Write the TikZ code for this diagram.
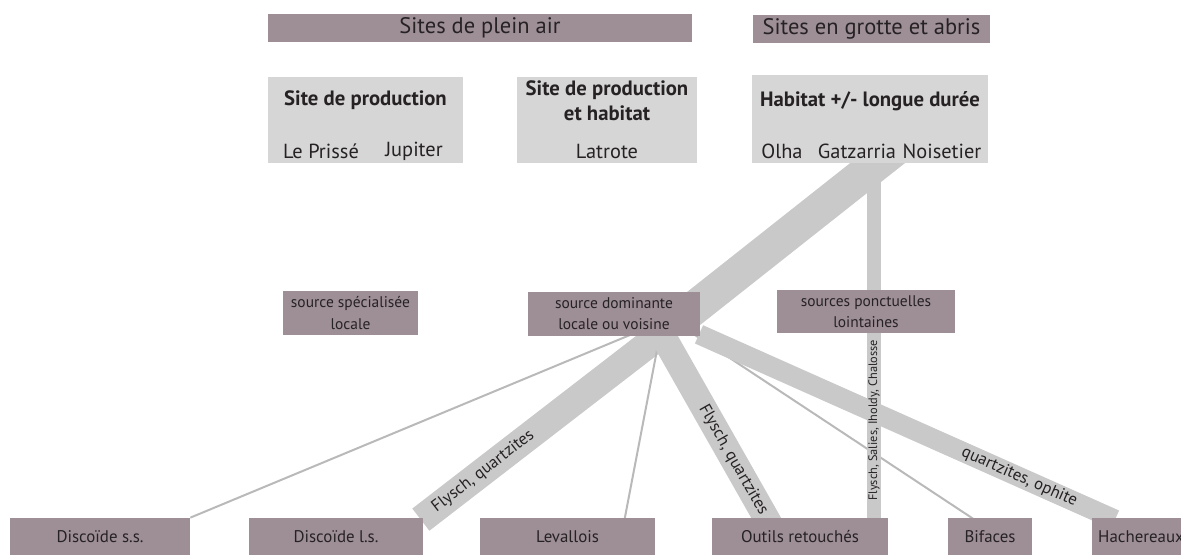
\documentclass[tikz,border=0pt]{standalone}
\usepackage{fontspec}
\setmainfont{PT Sans}
\usetikzlibrary{calc,backgrounds}
\definecolor{Mauve}{RGB}{158,143,151}
\definecolor{BoxGrey}{RGB}{214,214,214}
\definecolor{BandGrey}{RGB}{201,201,201}
\definecolor{Ink}{RGB}{38,34,36}

\begin{document}
\begin{tikzpicture}[x=0.02cm,y=-0.02cm,text=Ink,
  hd/.style={fill=Mauve,inner sep=0pt,minimum height=0.56cm,font=\fontsize{12.8}{14}\selectfont},
  grp/.style={fill=BoxGrey,inner sep=0pt},
  ttl/.style={font=\bfseries\fontsize{11.8}{14.2}\selectfont,align=center,inner sep=0pt},
  itm/.style={font=\fontsize{11.6}{13}\selectfont,inner sep=0pt},
  src/.style={fill=Mauve,inner sep=0pt,minimum height=0.88cm,align=center,font=\fontsize{8.8}{12}\selectfont},
  tl/.style={fill=Mauve,inner sep=0pt,minimum height=0.74cm,font=\fontsize{9.6}{11}\selectfont},
  band/.style={draw=BandGrey,line width=#1},
  wire/.style={draw=BandGrey!92!black,line width=0.04cm},
  lb/.style={font=\fontsize{9.5}{10}\selectfont,inner sep=0pt}]
\useasboundingbox (0,0) rectangle (1181,555);

% ===== headers =====
\node[hd,minimum width=8.48cm] (plein) at (480,28) {Sites de plein air};
\node[hd,minimum width=4.74cm] (grotte) at (871.5,29) {Sites en grotte et abris};

% ===== site types =====
\node[grp,minimum width=3.9cm,minimum height=1.72cm] (prod) at (365.5,120) {};
\node[ttl] (prodT) at (365.5,100) {Site de production};
\node[itm] (prisse) at (321,151) {Le Prissé};
\node[itm] (jupiter) at (414,151) {Jupiter};

\node[grp,minimum width=3.6cm,minimum height=1.72cm] (prodhab) at (607,120) {};
\node[ttl] (prodhabT) at (607,100.5) {Site de production\\et habitat};
\node[itm] (latrote) at (607,151) {Latrote};

\node[grp,minimum width=4.72cm,minimum height=1.76cm] (habitat) at (870,119) {};
\node[ttl] (habitatT) at (870,101) {Habitat +/- longue durée};
\node[itm] (olha) at (782,151) {Olha};
\node[itm] (gatz) at (857,151) {Gatzarria};
\node[itm] (noise) at (942,151) {Noisetier};

% ===== sources =====
\node[src,minimum width=2.7cm] (spec) at (350.5,313) {source spécialisée\\locale};
\node[src,minimum width=3.44cm] (dom) at (614,314) {source dominante\\locale ou voisine};
\node[src,minimum width=3.56cm,minimum height=0.86cm] (ponct) at (866,311.5) {sources ponctuelles\\lointaines};

% ===== tools =====
\node[tl,minimum width=3.6cm] (dss) at (100,536.5) {Discoïde s.s.};
\node[tl,minimum width=3.5cm] (dls) at (336,536.5) {Discoïde l.s.};
\node[tl,minimum width=3.5cm] (lev) at (567.5,536.5) {Levallois};
\node[tl,minimum width=3.52cm] (outils) at (800,536.5) {Outils retouchés};
\node[tl,minimum width=1.68cm] (bif) at (990,536.5) {Bifaces};
\node[tl,minimum width=1.96cm] (hach) at (1141,536.5) {Hachereaux};

% ===== flows (behind the boxes) =====
\begin{scope}[on background layer]
\draw[band=0.68cm] ($(habitat.south)+(30,-18)$) -- ($(dom.center)+(65,6)$);
\draw[wire] ($(dom.south)+(20,-3)$) -- (dss.north east);
\draw[band=0.56cm] ($(dom.south)+(47,-2)$) -- ($(dls.north east)+(-3,2)$)
  node[lb,pos=0.74,sloped]{Flysch, quartzites};
\draw[wire] ($(dom.south)+(46,-2)$) -- ($(lev.north)+(57,2)$);
\draw[band=0.52cm] ($(dom.south)+(48,-2)$) -- ($(outils.north)+(-30,7)$)
  node[lb,pos=0.66,sloped]{Flysch, quartzites};
\draw[wire] ($(dom.south)+(80,-2)$) -- ($(bif.north)+(-17,1)$);
\draw[band=0.4cm] ($(dom.south)+(85,-2)$) -- ($(hach.north)+(-26,2)$)
  node[lb,pos=0.77,sloped]{quartzites, ophite};
% far sources run over the other flows
\draw[band=0.28cm] ($(habitat.south)+(4,-10)$) -- ($(ponct.north)+(8,8)$);
\draw[band=0.28cm] ($(ponct.south)+(8,-8)$) -- ($(outils.north)+(74,10)$)
  node[lb,pos=0.47,rotate=90,font=\fontsize{7}{8}\selectfont]{Flysch, Salies, Iholdy, Chalosse};
\end{scope}
\end{tikzpicture}
\end{document}
